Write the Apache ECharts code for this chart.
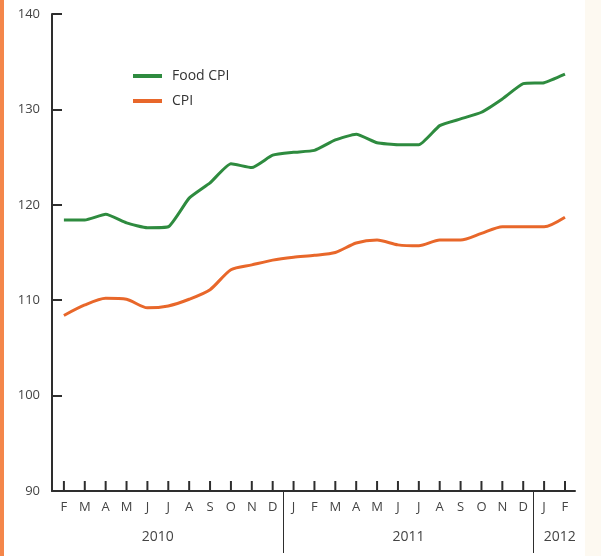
<!DOCTYPE html>
<html>
<head>
<meta charset="utf-8">
<script src="https://cdn.jsdelivr.net/npm/echarts@6/dist/echarts.min.js"></script>
<style>
  html, body { margin: 0; padding: 0; background: #ffffff; }
  #chart { width: 601px; height: 556px; }
</style>
</head>
<body>
<div id="chart"></div>
<script>
// Monthly index values, Feb 2010 through Feb 2012
const monthLabels = ["F","M","A","M","J","J","A","S","O","N","D",
                     "J","F","M","A","M","J","J","A","S","O","N","D",
                     "J","F"];
const foodCpi = [118.4, 118.4, 119.0, 118.1, 117.6, 117.7, 120.7, 122.3, 124.3, 123.9, 125.2,
                 125.5, 125.7, 126.8, 127.4, 126.5, 126.3, 126.3, 128.3, 129.0, 129.7, 131.1, 132.7,
                 132.8, 133.7];
const cpi = [108.4, 109.5, 110.2, 110.1, 109.2, 109.4, 110.1, 111.1, 113.2, 113.7, 114.2,
             114.5, 114.7, 115.0, 116.0, 116.3, 115.8, 115.7, 116.3, 116.3, 117.0, 117.7, 117.7,
             117.7, 118.7];
const yearLabels = ["2010", "2011", "2012"];
const yearCenters = [4.5, 16.5, 23.75];
const yearBreaks = [10.5, 22.5];

const monthIdx = () => monthLabels.map((_, i) => i);
const pairs = arr => arr.map((v, i) => [i, v]);

const textFont = '"Open Sans", "Liberation Sans", sans-serif';
const axisColor = '#2e2e2e';
const labelColor = '#444444';
const xMin = -0.57, xMax = 24.48;
const yMin = 90, yMax = 140;
const monthTickLength = 10;

const chart = echarts.init(document.getElementById('chart'), null, { renderer: 'canvas' });

chart.setOption({
  backgroundColor: '#ffffff',
  animation: false,
  graphic: [
    { type: 'rect', left: 0, top: 0, shape: { width: 4, height: 556 }, style: { fill: '#f4864a' } },
    { type: 'rect', right: 0, top: 0, shape: { width: 16, height: 556 }, style: { fill: '#fdf9f1' } }
  ],
  legend: {
    orient: 'vertical',
    left: 128,
    top: 64,
    itemWidth: 29,
    itemHeight: 4,
    itemGap: 11,
    icon: 'rect',
    textStyle: { fontFamily: textFont, fontSize: 14, color: '#333333', padding: [0, 0, 0, 5] },
    data: ['Food CPI', 'CPI']
  },
  grid: { left: 52, right: 26, top: 14, bottom: 65, containLabel: false },
  xAxis: [
    {
      // month letters along the base line
      type: 'value',
      min: xMin,
      max: xMax,
      splitLine: { show: false },
      axisLine: { show: true, onZero: false, lineStyle: { color: axisColor, width: 2 } },
      axisTick: { show: false },
      axisLabel: {
        show: true, margin: 10,
        customValues: monthIdx(),
        formatter: v => monthLabels[Math.round(v)],
        fontFamily: textFont, fontSize: 13, color: labelColor
      }
    },
    {
      // year names and the dividers between years
      type: 'value',
      position: 'bottom',
      min: xMin,
      max: xMax,
      splitLine: { show: false },
      axisLine: { show: false, onZero: false },
      axisTick: {
        show: true, inside: false, length: 62,
        customValues: yearBreaks,
        lineStyle: { color: axisColor, width: 1 }
      },
      axisLabel: {
        show: true, margin: 39,
        customValues: yearCenters,
        formatter: v => yearLabels[yearCenters.indexOf(v)],
        fontFamily: textFont, fontSize: 14, color: labelColor
      }
    }
  ],
  yAxis: {
    type: 'value',
    min: yMin,
    max: yMax,
    interval: 10,
    splitLine: { show: false },
    axisLine: { show: true, onZero: false, lineStyle: { color: axisColor, width: 2 } },
    axisTick: { show: true, inside: true, length: 10, lineStyle: { color: axisColor, width: 2 } },
    axisLabel: { margin: 12, fontFamily: textFont, fontSize: 13, color: labelColor }
  },
  series: [
    {
      // short month ticks standing on the base line
      name: 'monthTicks',
      type: 'custom',
      data: monthIdx().map(i => [i, yMin]),
      clip: false,
      silent: true,
      z: 10,
      renderItem: (params, api) => {
        const p = api.coord([api.value(0), api.value(1)]);
        return {
          type: 'rect',
          shape: { x: p[0] - 1, y: p[1] - monthTickLength, width: 2, height: monthTickLength },
          style: { fill: axisColor }
        };
      }
    },
    {
      name: 'Food CPI',
      type: 'line',
      data: pairs(foodCpi),
      smooth: 0.15,
      symbol: 'none',
      lineStyle: { color: '#2e8b3f', width: 3 },
      itemStyle: { color: '#2e8b3f' },
      z: 3
    },
    {
      name: 'CPI',
      type: 'line',
      data: pairs(cpi),
      smooth: 0.25,
      symbol: 'none',
      lineStyle: { color: '#e8672a', width: 3 },
      itemStyle: { color: '#e8672a' },
      z: 3
    }
  ]
});
</script>
</body>
</html>
